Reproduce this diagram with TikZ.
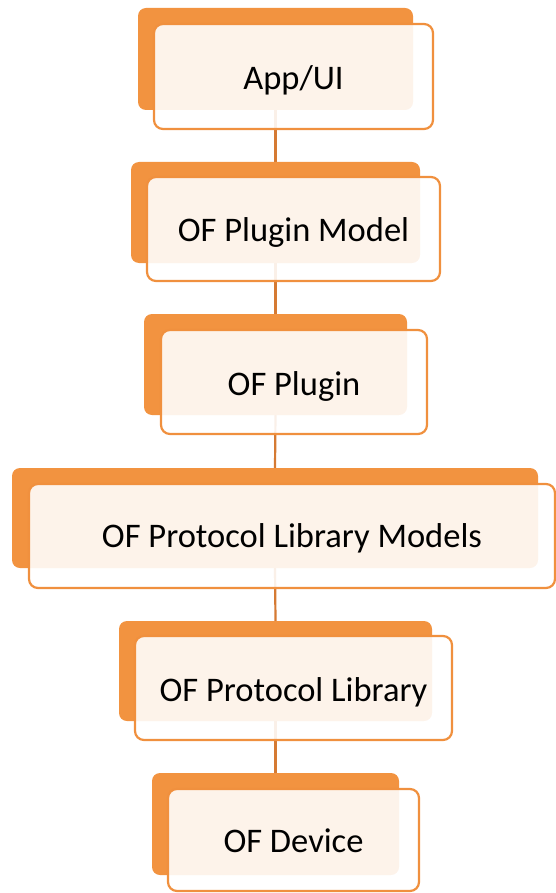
\documentclass[tikz,border=0pt]{standalone}
\usepackage{fontspec}
\setmainfont{Carlito}
\pgfdeclarelayer{bg}
\pgfsetlayers{bg,main}
\definecolor{tabfill}{HTML}{F29340}
\definecolor{cardedge}{HTML}{F0903E}
\definecolor{linkcol}{HTML}{D57A33}
\tikzset{
  tab/.style={draw=none, fill=tabfill, rounded corners=8pt, inner sep=0pt, outer sep=0pt},
  card/.style={draw=cardedge, line width=2.2pt, fill=white, fill opacity=0.89, draw opacity=1,
               rounded corners=9pt, inner sep=0pt, outer sep=0pt},
  caption/.style={anchor=base, inner sep=0pt, text=black,
                  font=\fontsize{34.5}{41}\selectfont},
  link/.style={draw=linkcol, line width=2.2pt}
}
\begin{document}
\begin{tikzpicture}[x=1pt, y=-1pt]
\useasboundingbox (0,0) rectangle (556,893);
% each entry: back tab (x1,y1,x2,y2) / front card (x1,y1,x2,y2) / baseline / caption
\foreach \i/\ax/\ay/\bx/\by/\cx/\cy/\dx/\dy/\base/\txt in {
  1/138/8/413/110/154/24/433/129/89.5/{App/UI},
  2/131/162/420/263/147/177/440/281/241.7/{OF Plugin Model},
  3/144/314/407/415/161/330/427/434/395.7/{OF Plugin},
  4/12/468/538/568/29/484/555/588/547.7/{OF Protocol Library Models},
  5/119/621/432/721/135/636/452/740/701.7/{OF Protocol Library},
  6/152/773/399/875/168/789/419/891/852.7/{OF Device}}{
  \node[tab, minimum width={(\bx-\ax)*1pt}, minimum height={(\by-\ay)*1pt}]
    (back\i) at ({(\ax+\bx)/2},{(\ay+\by)/2}) {};
  \node[card, minimum width={(\dx-\cx)*1pt}, minimum height={(\dy-\cy)*1pt}]
    (front\i) at ({(\cx+\dx)/2},{(\cy+\dy)/2}) {};
  \node[caption] (label\i) at ({(\cx+\dx)/2},\base) {\txt};
}
% vertical links between the stacked tabs, kept underneath the boxes
\begin{pgfonlayer}{bg}
\foreach \i/\j in {1/2,2/3,3/4,4/5,5/6}{
  \draw[link] (back\i.south) -- (back\j.north);
}
\end{pgfonlayer}
\end{tikzpicture}
\end{document}
